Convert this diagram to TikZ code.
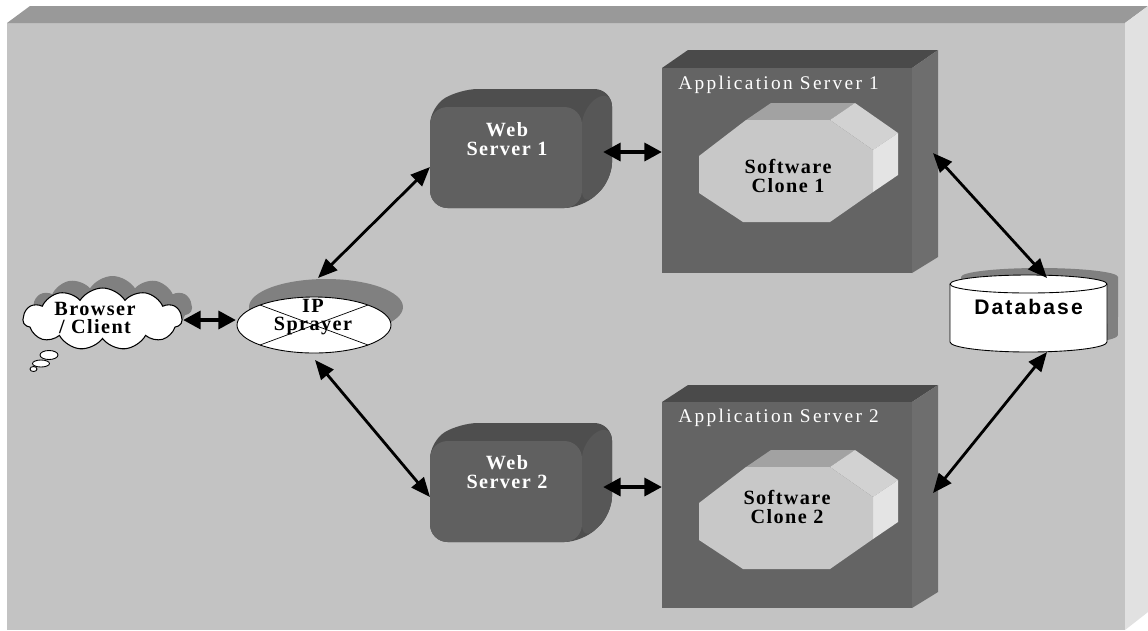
\documentclass[tikz,border=0pt]{standalone}
\usepackage{fontspec}
\usetikzlibrary{shapes.symbols,shapes.geometric,arrows.meta,calc}
\newfontfamily\lblfont[LetterSpace=7]{Liberation Serif}
\newfontfamily\ttlfont[LetterSpace=12]{Liberation Serif}
\newfontfamily\dbfont[LetterSpace=10]{Liberation Sans}
\definecolor{bgfront}{HTML}{C3C3C3}
\definecolor{bgtop}{HTML}{999999}
\definecolor{bgside}{HTML}{E1E1E1}
\definecolor{wsfront}{HTML}{606060}
\definecolor{wstop}{HTML}{4E4E4E}
\definecolor{wsside}{HTML}{575757}
\definecolor{asfront}{HTML}{646464}
\definecolor{astop}{HTML}{4A4A4A}
\definecolor{asside}{HTML}{6E6E6E}
\definecolor{clfront}{HTML}{C8C8C8}
\definecolor{cltop}{HTML}{A2A2A2}
\definecolor{clupper}{HTML}{D2D2D2}
\definecolor{clside}{HTML}{E4E4E4}
\definecolor{shadowgray}{HTML}{808080}
\begin{document}
\begin{tikzpicture}[x=0.02cm,y=-0.02cm,
  dbl/.style={{Triangle[length=11pt,width=9pt]}-{Triangle[length=11pt,width=9pt]}, line width=1.6pt, black},
  dblshort/.style={{Triangle[length=10pt,width=10pt]}-{Triangle[length=10pt,width=10pt]}, line width=2.6pt, black},
  boldlbl/.style={font=\lblfont\bfseries\fontsize{11.5}{10.5}\selectfont, align=center, inner sep=0pt},
  ttl/.style={font=\ttlfont\fontsize{11}{11}\selectfont, text=white, inner sep=0pt},
  wsface/.style={fill=wsfront, rounded corners=10, inner sep=0pt, minimum width=3.04cm, minimum height=2.02cm},
  asface/.style={fill=asfront, inner sep=0pt, minimum width=5cm},
  clone/.pic={
    \fill[cltop] (-40,-51) -- (-15,-68) -- (69,-68) -- (44,-51) -- cycle;
    \fill[clupper] (44,-51) -- (69,-68) -- (112,-38) -- (87,-21) -- cycle;
    \fill[clside] (87,-21) -- (112,-38) -- (112,4) -- (87,21) -- cycle;
    \fill[clfront] (-87,-15) -- (-40,-51) -- (44,-51) -- (87,-21) -- (87,21) -- (44,51) -- (-43,51) -- (-87,22) -- cycle;
  },
  cloudshape/.style={cloud, cloud puffs=11, cloud puff arc=115, aspect=2.5, minimum width=3.18cm, minimum height=1.24cm, inner sep=0pt}
]
\useasboundingbox (0,0) rectangle (1148,630);
% background slab
\fill[white] (0,0) rectangle (1148,630);
\fill[bgfront] (7,23) rectangle (1125,630);
\fill[bgtop] (7,23) -- (30,6) -- (1148,6) -- (1125,23) -- cycle;
\fill[bgside] (1125,23) -- (1148,6) -- (1148,612) -- (1125,630) -- cycle;

% web server 1
\fill[wstop, rounded corners=10] (430,107) -- (460,89) -- (612,89) -- (612,180) -- (582,208) -- (430,208) -- cycle;
\fill[wsside, rounded corners=10] (582,107) -- (612,89) -- (612,180) -- (582,208) -- cycle;
\node[wsface] (ws1) at (506,157.5) {};
\node[boldlbl, text=white] (ws1t) at (507,139) {Web\\Server 1};
% web server 2
\fill[wstop, rounded corners=10] (430,441) -- (460,423) -- (612,423) -- (612,514) -- (582,542) -- (430,542) -- cycle;
\fill[wsside, rounded corners=10] (582,441) -- (612,423) -- (612,514) -- (582,542) -- cycle;
\node[wsface] (ws2) at (506,491.5) {};
\node[boldlbl, text=white] (ws2t) at (507,472) {Web\\Server 2};

% application server 1
\fill[astop] (662,68) -- (688,50) -- (938,50) -- (912,68) -- cycle;
\fill[asside] (912,68) -- (938,50) -- (938,257) -- (912,273) -- cycle;
\node[asface, minimum height=4.1cm] (as1) at (787,170.5) {};
\node[ttl, anchor=west] (as1t) at (678,85) {Application Server 1};
\pic at (786,171) {clone};
\node[boldlbl] (clone1) at (788,176) {Software\\Clone 1};
% application server 2
\fill[astop] (662,402) -- (688,385) -- (938,385) -- (912,402) -- cycle;
\fill[asside] (912,402) -- (938,385) -- (938,592) -- (912,608) -- cycle;
\node[asface, minimum height=4.12cm] (as2) at (787,505) {};
\node[ttl, anchor=west] (as2t) at (678,418) {Application Server 2};
\pic at (786,518) {clone};
\node[boldlbl] (clone2) at (787,507) {Software\\Clone 2};

% database
\fill[shadowgray] (961,277) -- (961,335) arc[start angle=180,end angle=360,x radius=1.57cm,y radius=0.2cm] -- (1118,277) arc[start angle=0,end angle=180,x radius=1.57cm,y radius=0.18cm] -- cycle;
\filldraw[fill=white, draw=black, line width=0.5pt] (950,284) -- (950,342) arc[start angle=180,end angle=360,x radius=1.57cm,y radius=0.2cm] -- (1107,284) arc[start angle=0,end angle=180,x radius=1.57cm,y radius=0.18cm] -- cycle;
\draw[line width=0.5pt] (950,284) arc[start angle=180,end angle=360,x radius=1.57cm,y radius=0.18cm];
\node[font=\dbfont\bfseries\fontsize{12}{12}\selectfont, inner sep=0pt] (db) at (1028.5,307) {Database};

% IP sprayer
\fill[shadowgray] (326,307) ellipse [x radius=1.54cm, y radius=0.56cm];
\node[ellipse, draw=black, fill=white, line width=0.5pt, minimum width=3.08cm, minimum height=1.12cm, inner sep=0pt] (ip) at (314,325) {};
\draw[line width=0.4pt] ($(ip.center)+(-54,-20)$) -- ($(ip.center)+(54,20)$);
\draw[line width=0.4pt] ($(ip.center)+(-54,20)$) -- ($(ip.center)+(54,-20)$);
\node[boldlbl] (ipt) at (313,317) {IP\\Sprayer};

% browser cloud
\node[cloudshape, fill=shadowgray] (cloudsh) at (112.5,307) {};
\node[cloudshape, draw=black, fill=white, line width=0.6pt] (cloud) at (102.5,319) {};
\node[boldlbl] (cloudt) at (95,318) {Browser\\/ Client};
\filldraw[fill=white, draw=black, line width=0.5pt] (49,355) ellipse [x radius=0.18cm, y radius=0.09cm];
\filldraw[fill=white, draw=black, line width=0.5pt] (41,363.5) ellipse [x radius=0.17cm, y radius=0.07cm];
\filldraw[fill=white, draw=black, line width=0.5pt] (33.5,369) ellipse [x radius=0.07cm, y radius=0.05cm];

% connector end points
\coordinate (cloudE) at (183,320);
\coordinate (ipW) at (236,320);
\coordinate (ipN) at (318,278);
\coordinate (ipS) at (315,360);
\coordinate (ws1W) at (430,167);
\coordinate (ws2W) at (430,497);
\coordinate (ws1E) at (603,152);
\coordinate (ws2E) at (603,487);
\coordinate (as1W) at (662,152);
\coordinate (as2W) at (662,487);
\coordinate (as1E) at (933,153);
\coordinate (as2E) at (933,493);
\coordinate (dbN) at (1047,278);
\coordinate (dbS) at (1047,352);

% connectors
\draw[dblshort] (cloudE) -- (ipW);
\draw[dbl] (ipN) -- (ws1W);
\draw[dbl] (ipS) -- (ws2W);
\draw[dblshort] (ws1E) -- (as1W);
\draw[dblshort] (ws2E) -- (as2W);
\draw[dbl] (as1E) -- (dbN);
\draw[dbl] (as2E) -- (dbS);
\end{tikzpicture}
\end{document}
